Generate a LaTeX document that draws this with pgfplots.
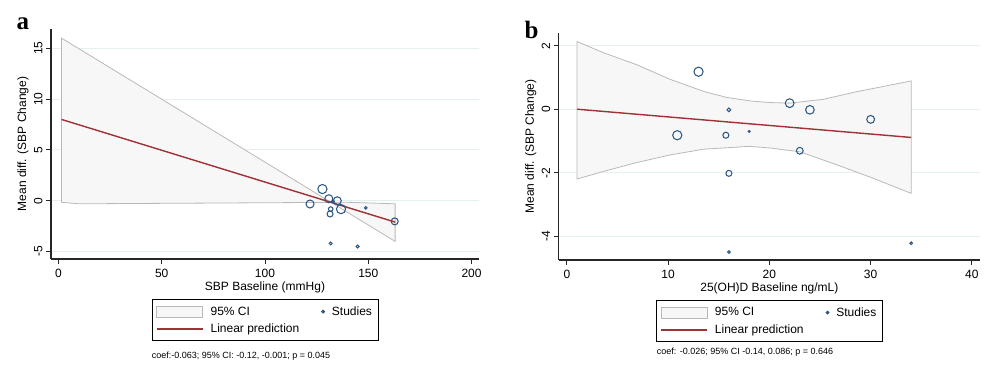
\documentclass[border=0pt]{standalone}
\usepackage{fontspec}
\setmainfont{Liberation Sans}
\newfontfamily\serifbold{Liberation Serif}
\usepackage{pgfplots}
\pgfplotsset{compat=1.18}
\definecolor{ciFill}{RGB}{247,247,247}
\definecolor{ciEdge}{RGB}{185,185,185}
\definecolor{predRed}{RGB}{160,50,55}
\definecolor{studyBlue}{RGB}{45,88,132}
\definecolor{gridC}{RGB}{230,239,241}

\pgfplotsset{
  statastyle/.style={
    scale only axis,
    anchor=south west,
    axis x line*=bottom, axis y line*=left,
    axis line style={-, line width=1.2pt, black!85},
    tick align=outside,
    major tick length=5pt,
    tick style={line width=1pt, black!85},
    ymajorgrids, grid style={gridC, line width=0.9pt},
    /pgf/number format/assume math mode=true,
    tick label style={font=\fontsize{12}{14}\selectfont},
    label style={font=\fontsize{12}{14}\selectfont},
    yticklabel style={rotate=90, anchor=south, xshift=0pt},
    xticklabel style={yshift=-2pt},
    xlabel style={at={(axis description cs:0.5,0)}, anchor=center, yshift=-28pt},
    ylabel style={at={(axis description cs:0,0.5)}, anchor=center, yshift=28pt},
    legend columns=2,
    legend cell align=left,
    legend style={draw=black, line width=1pt,
      font=\fontsize{12}{14}\selectfont, inner xsep=4pt, inner ysep=5pt,
      row sep=3pt,
      /tikz/every odd column/.append style={column sep=5pt},
      /tikz/every even column/.append style={column sep=20pt}},
  },
  ciarea/.style={draw=ciEdge, fill=ciFill, line width=0.8pt,
    legend image code/.code={\draw[draw=ciEdge,fill=ciFill,line width=0.8pt] (0pt,-5.5pt) rectangle (46pt,5.5pt);}},
  predline/.style={predRed, line width=1.4pt,
    legend image code/.code={\draw[draw=predRed,line width=1.6pt] (0pt,0pt) -- (46pt,0pt);}},
  studies/.style={scatter, only marks, mark=o, line width=1.05pt,
    scatter/use mapped color={draw=studyBlue},
    visualization depends on={\thisrow{r} \as \rad},
    scatter/@pre marker code/.append style={/tikz/mark size=\rad pt},
    legend image code/.code={\fill[studyBlue] (0pt,0pt) circle (1.3pt);}},
}

\begin{document}
\begin{tikzpicture}
\useasboundingbox (0pt,0pt) rectangle (1000pt,379pt);

% ---------------- panel a ----------------
\begin{axis}[statastyle,
  at={(51pt,120pt)},
  width=428pt, height=230pt,
  xmin=-3.6, xmax=203.6, ymin=-5.73, ymax=16.9,
  xtick={0,50,100,150,200}, ytick={-5,0,5,10,15},
  xlabel={SBP Baseline (mmHg)},
  ylabel={Mean diff. (SBP Change)},
  legend style={at={(0.5,-0.174)}, anchor=north},
]
\addplot[ciarea] coordinates {
  (1.5,16.0) (163,-4.0) (163,-0.3) (140,-0.15) (10,-0.3) (1.5,-0.15)
} -- cycle;
\addlegendentry{95\% CI}
\addplot[studies] table {
x y r
127.8 1.15 4.6
121.8 -0.32 4.0
130.9 0.2 4.0
135.0 0.0 4.0
136.8 -0.82 4.6
131.8 -0.82 2.3
131.5 -1.3 3.0
133.0 -0.05 1.2
148.8 -0.7 1.3
162.8 -2.03 3.5
131.8 -4.2 1.5
144.8 -4.5 1.5
};
\addlegendentry{Studies}
\addplot[predline] coordinates {(1.5,8.0) (163,-2.1)};
\addlegendentry{Linear prediction}
\end{axis}

% ---------------- panel b ----------------
\begin{axis}[statastyle,
  at={(558.7pt,119pt)},
  width=421.3pt, height=227pt,
  xmin=-0.81, xmax=40.8, ymin=-4.75, ymax=2.40,
  xtick={0,10,20,30,40}, ytick={-4,-2,0,2},
  xlabel={25(OH)D Baseline ng/mL)},
  ylabel={Mean diff. (SBP Change)},
  legend style={at={(0.5,-0.176)}, anchor=north},
]
\addplot[ciarea] coordinates {
  (1,2.13) (3.6,1.78) (6.9,1.40) (10.2,0.94) (13.5,0.56) (15.8,0.37)
  (18.1,0.26) (20,0.21) (22,0.19) (25.3,0.31) (28.6,0.55) (31,0.70) (34,0.89)
  (34,-2.65) (30.2,-2.17) (27,-1.79) (23,-1.34) (20,-1.22) (18,-1.17)
  (13.5,-1.26) (10.2,-1.44) (6.9,-1.68) (3.6,-1.96) (1,-2.2)
} -- cycle;
\addlegendentry{95\% CI}
\addplot[studies] table {
x y r
13.0 1.18 4.6
10.9 -0.82 4.6
22.0 0.19 4.4
24.0 -0.02 4.3
30.0 -0.32 3.9
23.0 -1.31 3.4
15.7 -0.82 3.0
16.0 -2.02 3.0
16.0 -0.02 1.9
18.0 -0.70 1.0
16.0 -4.50 1.3
34.0 -4.22 1.3
};
\addlegendentry{Studies}
\addplot[predline] coordinates {(1,0.0) (34,-0.89)};
\addlegendentry{Linear prediction}
\end{axis}

% panel letters and notes
\node[anchor=base west, inner sep=0pt, font=\serifbold\bfseries\fontsize{25}{25}\selectfont] at (16.5pt,349pt) {a};
\node[anchor=base west, inner sep=0pt, font=\serifbold\bfseries\fontsize{25}{25}\selectfont] at (524.5pt,340.7pt) {b};
\node[anchor=west, inner sep=0pt, font=\fontsize{9}{10}\selectfont] at (151.7pt,23pt) {coef:-0.063; 95\% CI: -0.12, -0.001; p = 0.045};
\node[anchor=west, inner sep=0pt, font=\fontsize{9}{10}\selectfont] at (656.7pt,27.3pt) {coef: -0.026; 95\% CI -0.14, 0.086; p = 0.646};
\end{tikzpicture}
\end{document}
